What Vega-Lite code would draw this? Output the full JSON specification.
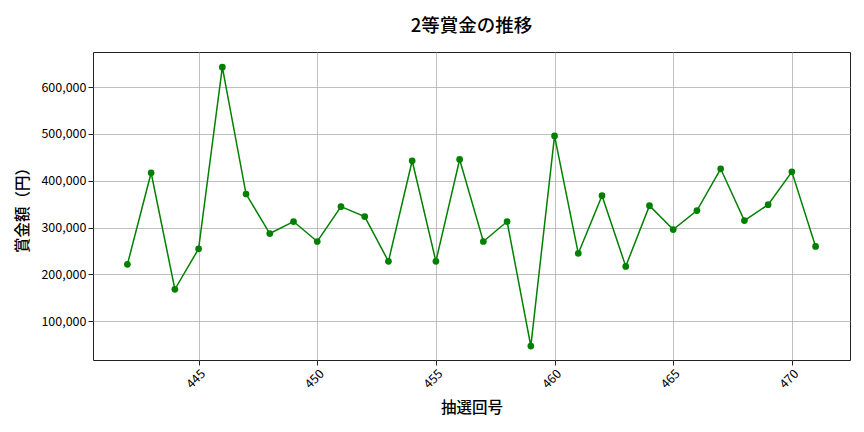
{
  "$schema": "https://vega.github.io/schema/vega-lite/v6.json",
  "width": 757,
  "height": 308,
  "autosize": {"type": "none"},
  "padding": {"left": 93, "top": 52, "right": 14, "bottom": 72},
  "title": {
    "text": "2等賞金の推移",
    "font": "Noto Sans CJK JP",
    "fontSize": 18.5,
    "fontWeight": 500,
    "color": "#000000",
    "offset": 17
  },
  "config": {
    "view": {"stroke": "#222222", "strokeWidth": 1},
    "axis": {
      "labelFont": "Noto Sans CJK JP",
      "titleFont": "Noto Sans CJK JP",
      "labelFontSize": 12.5,
      "titleFontSize": 15.5,
      "titleFontWeight": 500,
      "labelColor": "#000000",
      "titleColor": "#000000",
      "gridColor": "#b0b0b0",
      "gridWidth": 0.8,
      "tickColor": "#222222",
      "domain": false
    }
  },
  "data": {
    "values": [
      {"draw": 442, "prize": 221300},
      {"draw": 443, "prize": 417000},
      {"draw": 444, "prize": 168100},
      {"draw": 445, "prize": 254600},
      {"draw": 446, "prize": 642600},
      {"draw": 447, "prize": 371600},
      {"draw": 448, "prize": 287200},
      {"draw": 449, "prize": 312800},
      {"draw": 450, "prize": 270200},
      {"draw": 451, "prize": 344700},
      {"draw": 452, "prize": 323400},
      {"draw": 453, "prize": 227700},
      {"draw": 454, "prize": 442600},
      {"draw": 455, "prize": 227700},
      {"draw": 456, "prize": 445400},
      {"draw": 457, "prize": 270200},
      {"draw": 458, "prize": 312800},
      {"draw": 459, "prize": 46800},
      {"draw": 460, "prize": 495700},
      {"draw": 461, "prize": 244700},
      {"draw": 462, "prize": 368100},
      {"draw": 463, "prize": 217000},
      {"draw": 464, "prize": 346800},
      {"draw": 465, "prize": 295700},
      {"draw": 466, "prize": 336200},
      {"draw": 467, "prize": 425500},
      {"draw": 468, "prize": 314900},
      {"draw": 469, "prize": 348900},
      {"draw": 470, "prize": 419100},
      {"draw": 471, "prize": 259600}
    ]
  },
  "mark": {
    "type": "line",
    "color": "#008000",
    "strokeWidth": 1.5,
    "point": {"filled": true, "size": 45, "color": "#008000", "opacity": 1}
  },
  "encoding": {
    "x": {
      "field": "draw",
      "type": "quantitative",
      "title": "抽選回号",
      "scale": {"domain": [440.55, 472.45], "nice": false, "zero": false},
      "axis": {
        "values": [445, 450, 455, 460, 465, 470],
        "labelAngle": -45,
        "labelAlign": "right",
        "labelBaseline": "top",
        "titlePadding": 10
      }
    },
    "y": {
      "field": "prize",
      "type": "quantitative",
      "title": "賞金額（円）",
      "scale": {"domain": [17000, 675000], "nice": false, "zero": false},
      "axis": {
        "values": [100000, 200000, 300000, 400000, 500000, 600000],
        "format": ",d",
        "titlePadding": 10
      }
    }
  }
}
